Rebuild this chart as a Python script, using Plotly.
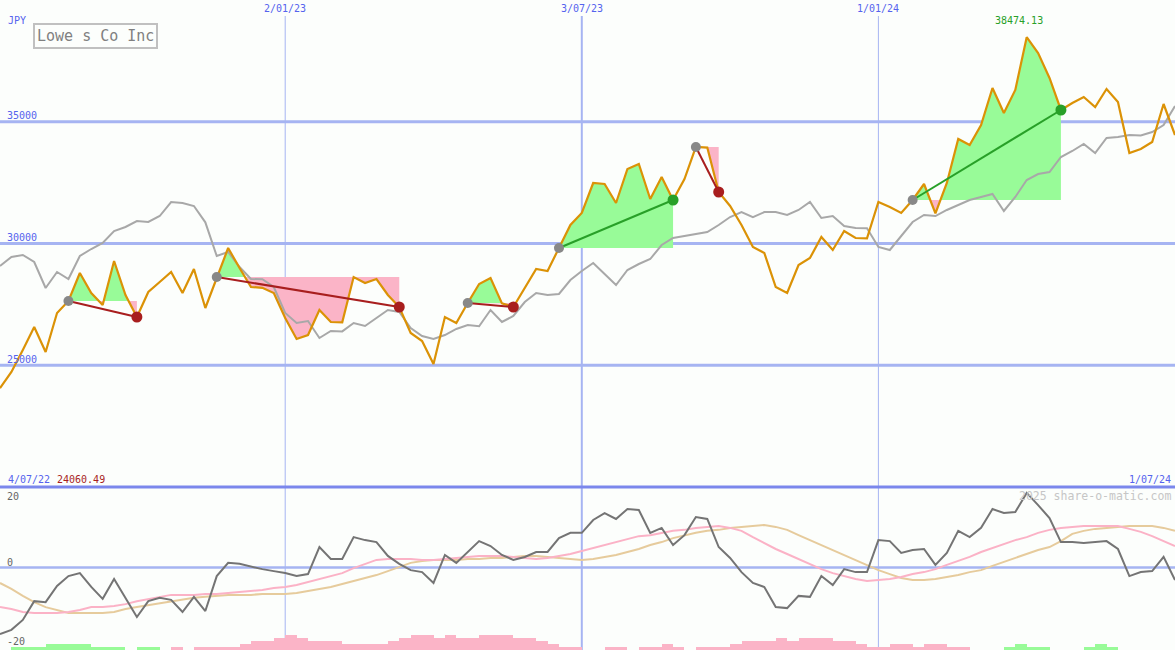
import pandas as pd
import plotly.graph_objects as go

# ---------------- data ----------------
dates = pd.date_range("2022-07-11", periods=104, freq="7D")

price = [24060.49, 24723, 25626, 26571, 25544, 27146, 27639, 28788, 27967, 27474,
         29281, 27885, 26981, 28008, 28419, 28830, 27967, 28953, 27351, 28624,
         29815, 28994, 28213, 28180, 27967, 26940, 26078, 26242, 27269, 26776,
         26760, 28624, 28378, 28542, 27885, 27392, 26324, 25996, 25051, 26981,
         26735, 27556, 28337, 28583, 27540, 27392, 28172, 28953, 28871, 29815,
         30760, 31253, 32485, 32443, 31663, 33060, 33265, 31827, 32731, 31786,
         32649, 33963, 33940, 32115, 31540, 30760, 29856, 29610, 28213, 27967,
         29117, 29404, 30267, 29733, 30513, 30226, 30210, 31704, 31499, 31253,
         31786, 32443, 31240, 32485, 34292, 34045, 34866, 36386, 35359, 36304,
         38474.13, 37823, 36797, 35483, 35770, 36016, 35606, 36345, 35811, 33717,
         33881, 34168, 35729, 34456]

compare = [29076, 29446, 29528, 29240, 28172, 28830, 28542, 29487, 29774, 30020,
           30513, 30678, 30924, 30883, 31129, 31704, 31663, 31540, 30870, 29487,
           29651, 29035, 28542, 28530, 28213, 27146, 26735, 26817, 26119, 26406,
           26390, 26735, 26612, 26940, 27269, 27187, 26530, 26201, 26078, 26242,
           26489, 26653, 26600, 27269, 26776, 27023, 27597, 27967, 27885, 27926,
           28501, 28871, 29199, 28747, 28296, 28912, 29158, 29363, 29938, 30226,
           30308, 30390, 30472, 30760, 31088, 31294, 31080, 31290, 31290, 31170,
           31376, 31704, 31047, 31129, 30719, 30636, 30630, 29856, 29733, 30308,
           30883, 31170, 31129, 31376, 31581, 31786, 31910, 32033, 31335, 31910,
           32608, 32854, 32936, 33552, 33799, 34086, 33717, 34333, 34374, 34456,
           34440, 34579, 34866, 35647]

osc = [-20.2, -18.9, -15.9, -10.2, -10.5, -5.6, -2.6, -1.7, -5.9, -9.5,
       -3.5, -9.2, -15.0, -10.2, -9.2, -9.8, -13.5, -8.9, -13.2, -2.6,
       1.4, 1.1, 0.2, -0.5, -1.1, -1.7, -2.6, -2.0, 6.2, 2.6,
       2.6, 9.2, 8.3, 7.7, 3.5, 1.1, -0.8, -1.4, -4.7, 3.8,
       1.4, 4.7, 8.0, 6.5, 3.8, 2.3, 3.2, 4.7, 4.7, 8.9,
       10.5, 10.5, 14.4, 16.5, 14.7, 17.7, 17.4, 10.5, 12.0, 6.8,
       9.8, 15.3, 14.7, 6.2, 2.9, -1.4, -4.7, -5.9, -12.0, -12.3,
       -8.6, -8.9, -2.6, -5.3, -0.5, -1.4, -1.4, 8.3, 8.0, 4.4,
       5.3, 5.6, 0.8, 4.4, 11.1, 9.2, 12.0, 17.7, 16.5, 16.8,
       22.6, 18.9, 15.0, 7.7, 7.7, 7.4, 7.7, 8.0, 5.6, -2.6,
       -1.4, -1.1, 3.2, -3.8]

osc_fast = [-12.0, -12.6, -13.5, -13.8, -13.8, -13.8, -13.5, -12.9, -12.0, -12.0,
            -11.7, -11.1, -10.2, -9.5, -8.9, -8.3, -8.3, -8.3, -8.0, -8.0,
            -7.7, -7.4, -7.1, -6.8, -6.2, -5.9, -5.3, -4.4, -3.5, -2.6,
            -1.7, -0.2, 1.1, 2.3, 2.6, 2.6, 2.6, 2.3, 2.3, 2.6,
            2.9, 3.2, 3.5, 3.5, 3.5, 3.2, 2.9, 2.6, 2.9, 3.5,
            4.1, 5.0, 5.9, 6.8, 7.7, 8.6, 9.5, 9.8, 10.5, 11.1,
            11.4, 12.0, 12.3, 12.6, 12.0, 11.1, 9.2, 7.4, 5.6, 4.1,
            2.6, 1.1, -0.5, -1.7, -2.6, -3.5, -4.1, -3.8, -3.5, -2.9,
            -2.0, -1.4, -0.5, 0.8, 2.0, 3.2, 4.7, 5.9, 7.1, 8.3,
            9.2, 10.5, 11.4, 12.0, 12.3, 12.6, 12.6, 12.6, 12.6, 11.7,
            10.8, 9.5, 8.0, 6.5]

osc_slow = [-4.7, -6.5, -8.6, -10.5, -12.0, -12.9, -13.8, -13.8, -13.8, -13.8,
            -13.5, -12.6, -12.0, -11.4, -10.8, -10.2, -9.8, -9.2, -8.9, -8.6,
            -8.3, -8.3, -8.3, -8.0, -8.0, -8.0, -7.7, -7.1, -6.5, -5.9,
            -5.0, -4.1, -3.2, -2.3, -1.1, 0.2, 1.4, 2.0, 2.3, 2.3,
            2.3, 2.6, 2.6, 2.9, 2.9, 3.2, 3.5, 3.5, 3.2, 2.9,
            2.6, 2.3, 2.6, 3.2, 3.8, 4.7, 5.6, 6.8, 7.7, 8.9,
            9.8, 10.5, 11.1, 11.4, 12.0, 12.3, 12.6, 12.9, 12.3, 11.4,
            9.8, 8.3, 6.8, 5.3, 3.8, 2.3, 0.8, -0.8, -2.0, -3.2,
            -3.8, -3.8, -3.5, -2.9, -2.3, -1.4, -0.8, 0.5, 1.7, 2.9,
            4.1, 5.3, 6.2, 8.0, 10.2, 11.1, 11.7, 12.0, 12.3, 12.6,
            12.6, 12.6, 12.0, 11.1]

hist = [0, 1, 1, 1, 2, 2, 2, 2, 1, 1,
        1, 0, 1, 1, 0, -1, 0, -1, -1, -1,
        -1, -2, -3, -3, -4, -5, -4, -3, -3, -3,
        -2, -2, -2, -2, -3, -4, -5, -5, -4, -5,
        -4, -4, -5, -5, -5, -4, -4, -3, -2, -1,
        -1, 0, 0, -1, -1, 0, -1, -1, -2, -1,
        0, -1, -1, -1, -2, -3, -3, -3, -4, -3,
        -4, -4, -4, -3, -3, -2, -1, -1, -2, -2,
        -1, -2, -2, -1, -1, 0, 0, 0, 1, 2,
        1, 1, 0, 0, 0, 1, 2, 1, 0, 0,
        0, 0, 0, 0]

trade_entry = [6, 19, 41, 49, 61, 80]
trade_exit = [12, 35, 45, 59, 63, 93]

grid_dates = ["2023-01-02", "2023-07-03", "2024-01-01"]
grid_labels = ["2/01/23", "3/07/23", "1/01/24"]
grid_widths = [1, 2, 1]
price_levels = [25000, 30000, 35000]
price_level_labels = ["25000", "30000", "35000"]
osc_labels = ["20", "0", "-20"]

title = "Lowe s Co Inc"
currency = "JPY"
start_label = "4/07/22"
start_value = "24060.49"
end_label = "1/07/24"
peak_label = "38474.13"
watermark = "2025 share-o-matic.com"

# ---------------- style ----------------
W, H = 1175, 650
LOWER_H = 163
SPLIT = LOWER_H / H
FONT = "DejaVu Sans Mono"
BG = "#fcfefc"
GRID = "#a6b4f2"
DIVIDER = "#7b87ec"
BLUE_TXT = "#5563ee"
ORANGE = "#db9206"
GRAY_LINE = "#a8a8a8"
GREEN_FILL = "#98fb98"
PINK_FILL = "#fbb4c7"
LOSS = "#a81e1e"
GAIN = "#28a028"
ENTRY = "#888888"


def py(pix):
    return 1 - pix / H


def px_x(pix):
    return pix / W


fig = go.Figure()


def region(i0, i1, level, above):
    xs, ys = [], []
    for i in range(i0, i1 + 1):
        p = price[i]
        if i > i0:
            p0 = price[i - 1]
            if (p0 - level) * (p - level) < 0:
                t = (level - p0) / (p - p0)
                xs.append(dates[i - 1] + (dates[i] - dates[i - 1]) * t)
                ys.append(level)
        xs.append(dates[i])
        ys.append(max(p, level) if above else min(p, level))
    xs += [dates[i1], dates[i0]]
    ys += [level, level]
    return xs, ys


for e, x in zip(trade_entry, trade_exit):
    lvl = price[e]
    for above, col in ((True, GREEN_FILL), (False, PINK_FILL)):
        xs, ys = region(e, x, lvl, above)
        fig.add_trace(go.Scatter(x=xs, y=ys, mode="lines", fill="toself",
                                 fillcolor=col, line=dict(width=0, color="rgba(0,0,0,0)"),
                                 hoverinfo="skip", xaxis="x", yaxis="y"))

fig.add_trace(go.Scatter(x=dates, y=compare, mode="lines",
                         line=dict(color=GRAY_LINE, width=2), xaxis="x", yaxis="y"))
fig.add_trace(go.Scatter(x=dates, y=price, mode="lines",
                         line=dict(color=ORANGE, width=2.2), xaxis="x", yaxis="y"))

for e, x in zip(trade_entry, trade_exit):
    col = GAIN if price[x] > price[e] else LOSS
    fig.add_trace(go.Scatter(x=[dates[e], dates[x]], y=[price[e], price[x]], mode="lines",
                             line=dict(color=col, width=2), xaxis="x", yaxis="y"))
    fig.add_trace(go.Scatter(x=[dates[e]], y=[price[e]], mode="markers",
                             marker=dict(color=ENTRY, size=10), xaxis="x", yaxis="y"))
    fig.add_trace(go.Scatter(x=[dates[x]], y=[price[x]], mode="markers",
                             marker=dict(color=col, size=11), xaxis="x", yaxis="y"))

# lower panel
fig.add_trace(go.Bar(x=dates, y=[abs(h) for h in hist],
                     marker=dict(color=[GREEN_FILL if h > 0 else PINK_FILL for h in hist],
                                 line=dict(width=0)),
                     width=7 * 86400000, offset=0, xaxis="x", yaxis="y3"))
fig.add_trace(go.Scatter(x=dates, y=osc_slow, mode="lines",
                         line=dict(color="#e6cb9c", width=2), xaxis="x", yaxis="y2"))
fig.add_trace(go.Scatter(x=dates, y=osc_fast, mode="lines",
                         line=dict(color="#fbb2c6", width=2), xaxis="x", yaxis="y2"))
fig.add_trace(go.Scatter(x=dates, y=osc, mode="lines",
                         line=dict(color="#747474", width=2), xaxis="x", yaxis="y2"))

shapes = []
for lvl in price_levels:
    shapes.append(dict(type="line", xref="paper", yref="y", x0=0, x1=1, y0=lvl, y1=lvl,
                       line=dict(color=GRID, width=3), layer="below"))
shapes.append(dict(type="line", xref="paper", yref="y2", x0=0, x1=1, y0=0, y1=0,
                   line=dict(color=GRID, width=2.5), layer="below"))
for d, w in zip(grid_dates, grid_widths):
    shapes.append(dict(type="line", xref="x", yref="paper", x0=d, x1=d, y0=0, y1=py(16),
                       line=dict(color=GRID, width=w), layer="below"))
shapes.append(dict(type="line", xref="paper", yref="paper", x0=0, x1=1, y0=SPLIT, y1=SPLIT,
                   line=dict(color=DIVIDER, width=3), layer="below"))

ann = []


def txt(text, x, y, color, size=10, xanchor="left", xref="paper", **kw):
    d = dict(text=text, x=x, y=y, xref=xref, yref="paper", xanchor=xanchor,
             yanchor="middle", showarrow=False, font=dict(family=FONT, size=size, color=color))
    d.update(kw)
    ann.append(d)


txt(currency, px_x(6), py(21), BLUE_TXT)
for lvl, lab in zip(price_levels, price_level_labels):
    ann.append(dict(text=lab, x=px_x(5), y=lvl, xref="paper", yref="y", xanchor="left",
                    yanchor="middle", yshift=6, showarrow=False,
                    font=dict(family=FONT, size=10, color=BLUE_TXT)))
for d, lab in zip(grid_dates, grid_labels):
    txt(lab, d, py(9), BLUE_TXT, xanchor="center", xref="x")
txt(peak_label, dates[price.index(max(price))], py(21), GAIN, xanchor="center", xref="x", xshift=-8)
txt(start_label, px_x(6), py(479), BLUE_TXT)
txt(start_value, px_x(55), py(479), LOSS)
txt(end_label, px_x(1173), py(479), BLUE_TXT, xanchor="right")
for lab, yy in zip(osc_labels, [496, 562, 641]):
    txt(lab, px_x(5), py(yy), "#666666")
txt(watermark, px_x(1173), py(496), "#c6c6c6", size=11.5, xanchor="right")
ann.append(dict(text=title, x=px_x(95.5), y=py(36.5), xref="paper", yref="paper",
                xanchor="center", yanchor="middle", showarrow=False,
                font=dict(family=FONT, size=15, color="#808080"),
                bordercolor="#c0c0c0", borderwidth=2, borderpad=2))

fig.update_layout(
    width=W, height=H, margin=dict(l=0, r=0, t=0, b=0, pad=0),
    paper_bgcolor=BG, plot_bgcolor="rgba(0,0,0,0)", showlegend=False,
    xaxis=dict(type="date", range=[dates[0], dates[-1]], visible=False, domain=[0, 1],
               fixedrange=True),
    yaxis=dict(domain=[SPLIT, 1], range=[20000, 40000], visible=False),
    yaxis2=dict(domain=[0, SPLIT], range=[-25.0, 24.39], visible=False, anchor="x"),
    yaxis3=dict(overlaying="y2", range=[0, LOWER_H / 3], visible=False, anchor="x"),
    shapes=shapes, annotations=ann, bargap=0,
)

fig.write_html("out.html", config={"displayModeBar": False},
               post_script="document.body.style.margin='0px';document.body.style.overflow='hidden';")
